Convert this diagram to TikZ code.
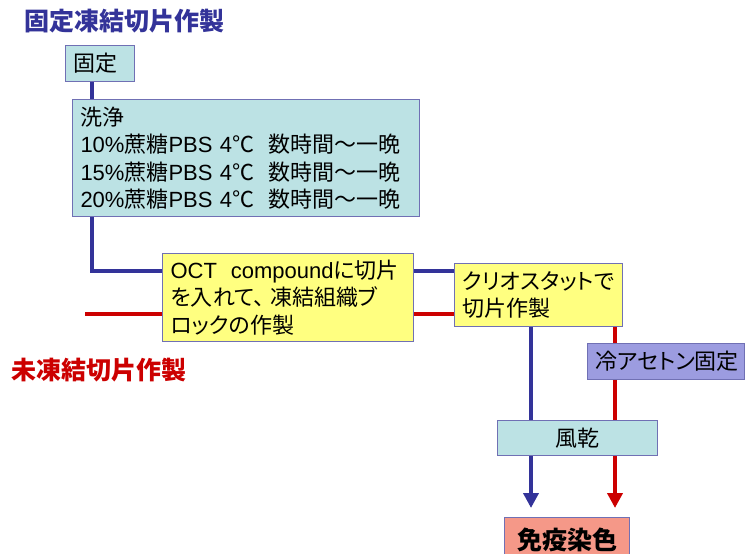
\documentclass[tikz,border=0pt]{standalone}
\usepackage{fontspec}
\setmainfont{Liberation Sans}
\newfontfamily\cjk[RawFeature=+palt]{Noto Sans CJK JP}
\usetikzlibrary{arrows.meta}
\newcommand\J[1]{{\cjk #1}}
\definecolor{cyanfill}{RGB}{188,226,228}
\definecolor{yellowfill}{RGB}{255,255,128}
\definecolor{lavfill}{RGB}{156,156,224}
\definecolor{salmonfill}{RGB}{245,152,136}
\definecolor{bordercol}{RGB}{112,112,180}
\definecolor{lineblue}{RGB}{51,51,153}
\definecolor{linered}{RGB}{204,0,0}
\tikzset{
  boxbase/.style={draw=bordercol, line width=1pt, inner xsep=8pt, inner ysep=0pt,
    anchor=north west, align=left, font=\fontsize{22}{27.5}\selectfont},
  cyanbox/.style={boxbase, fill=cyanfill},
  yellowbox/.style={boxbase, fill=yellowfill},
  lavbox/.style={boxbase, fill=lavfill},
  bline/.style={draw=lineblue, line width=4pt},
  rline/.style={draw=linered, line width=4pt},
  tipped/.style={-{Triangle[width=15pt,length=15pt]}, shorten >=9pt},
  heading/.style={anchor=west, inner sep=0pt, font=\fontsize{25}{28}\selectfont\cjk\bfseries}
}
\begin{document}
\begin{tikzpicture}[x=1pt,y=-1pt]
\useasboundingbox (0,0) rectangle (745,554);
% headings
\node[heading, text=lineblue] (t1) at (24,21) {固定凍結切片作製};
\node[heading, text=linered] (t2) at (11,370) {未凍結切片作製};
% boxes
\node[cyanbox, text width=53pt, minimum height=36pt] (kotei) at (65,45) {\J{固定}};
\node[cyanbox, text width=331pt, minimum height=117pt] (senjo) at (72,99)
  {\J{洗浄}\\
   10\%\J{蔗糖}PBS~4\J{℃}\nobreak\hspace{14pt}\J{数時間～一晩}\\
   15\%\J{蔗糖}PBS~4\J{℃}\nobreak\hspace{14pt}\J{数時間～一晩}\\
   20\%\J{蔗糖}PBS~4\J{℃}\nobreak\hspace{14pt}\J{数時間～一晩}};
\node[yellowbox, text width=235pt, minimum height=88pt] (oct) at (162,253)
  {OCT\nobreak\hspace{14pt}compound\J{に切片}\\
   \J{を入れて、}\nobreak\hspace{6pt}\J{凍結組織ブ}\\
   \J{ロックの作製}};
\node[yellowbox, text width=152pt, minimum height=63pt] (cryo) at (454,263)
  {\J{クリオスタットで}\\ \J{切片作製}};
\node[lavbox, text width=141pt, minimum height=36pt] (acetone) at (587,343)
  {\J{冷アセトン固定}};
\node[cyanbox, align=center, text width=144pt, minimum height=35pt] (fuukan) at (497,420)
  {\J{風乾}};
\node[boxbase, fill=salmonfill, align=center, text width=109pt, minimum height=44pt,
  font=\fontsize{25}{28}\selectfont\cjk\bfseries] (meneki) at (504,517) {免疫染色};
% connector anchors
\coordinate (bL) at (92,271);
\coordinate (rL) at (85,314);
\coordinate (bx) at (531,0);
\coordinate (rx) at (615,0);
% blue path
\draw[bline] (kotei.south -| bL) -- (senjo.north -| bL);
\draw[bline] (senjo.south -| bL) |- (oct.west |- bL);
\draw[bline] (oct.east |- bL) -- (cryo.west |- bL);
\draw[bline] (cryo.south -| bx) -- (fuukan.north -| bx);
\draw[bline, tipped] (fuukan.south -| bx) -- (meneki.north -| bx);
% red path
\draw[rline] (rL) -- (oct.west |- rL);
\draw[rline] (oct.east |- rL) -- (cryo.west |- rL);
\draw[rline] (cryo.south -| rx) -- (acetone.north -| rx);
\draw[rline] (acetone.south -| rx) -- (fuukan.north -| rx);
\draw[rline, tipped] (fuukan.south -| rx) -- (meneki.north -| rx);
\end{tikzpicture}
\end{document}
